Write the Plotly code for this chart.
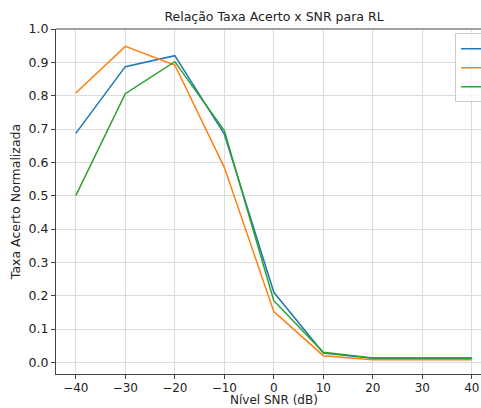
import plotly.graph_objects as go

snr = [-40, -30, -20, -10, 0, 10, 20, 30, 40]
serie_a = [0.687, 0.887, 0.920, 0.685, 0.210, 0.028, 0.012, 0.012, 0.012]
serie_b = [0.808, 0.948, 0.892, 0.585, 0.152, 0.020, 0.008, 0.008, 0.008]
serie_c = [0.500, 0.806, 0.902, 0.695, 0.185, 0.030, 0.013, 0.013, 0.013]
names = ["A", "B", "C"]
colors = ["#1f77b4", "#ff7f0e", "#2ca02c"]
x_ticks = [-40, -30, -20, -10, 0, 10, 20, 30, 40]
y_ticks = [0.0, 0.1, 0.2, 0.3, 0.4, 0.5, 0.6, 0.7, 0.8, 0.9, 1.0]

font = "DejaVu Sans"
fs = 12.5
fsx = 12
fig = go.Figure()
for ys, nm, c in zip([serie_a, serie_b, serie_c], names, colors):
    fig.add_trace(go.Scatter(x=snr, y=ys, mode="lines", name=nm,
                             line=dict(color=c, width=1.5)))

axis_common = dict(showgrid=True, gridcolor="#dcdcdc", gridwidth=1,
                   showline=True, linecolor="#444", linewidth=1,
                   ticks="outside", ticklen=4, tickcolor="#444",
                   zeroline=False)

x_range = [-44, -44 + 425 / 4.95]
fig.update_layout(
    width=481, height=408,
    margin=dict(l=56, r=0, t=29, b=34, autoexpand=False),
    paper_bgcolor="white", plot_bgcolor="white",
    font=dict(family=font, size=fs, color="#222"),
    title=dict(text="Relação Taxa Acerto x SNR para RL", x=274/481, xanchor="center",
               y=1 - 17/408, yanchor="middle", font=dict(family=font, size=12.5, color="#222")),
    xaxis=dict(range=x_range, tickvals=x_ticks,
               ticktext=[("\u2212" + str(-v)) if v < 0 else str(v) for v in x_ticks],
               tickfont=dict(family=font, size=fsx, color="#222"),
               ticklabelstandoff=-1,
               **axis_common),
    yaxis=dict(range=[-0.035, 1.0], tickvals=y_ticks,
               ticktext=[f"{v:.1f}" for v in y_ticks],
               tickfont=dict(family=font, size=fs, color="#222"),
               title=dict(text="Taxa Acerto Normalizada", standoff=5, font=dict(family=font, size=fs, color="#222")),
               **axis_common),
    legend=dict(x=0.939, y=0.988, xanchor="left", yanchor="top",
                bgcolor="rgba(255,255,255,0.8)", bordercolor="#cccccc", borderwidth=1,
                font=dict(family=font, size=10, color="#222")),
    shapes=[dict(type="line", xref="paper", yref="paper", x0=0, x1=1, y0=1, y1=1,
                 line=dict(color="#444", width=1))],
    annotations=[dict(text="Nível SNR (dB)", xref="paper", yref="paper",
                      x=(274 - 56) / 425, y=-34 / 345, xanchor="center", yanchor="bottom",
                      showarrow=False, borderpad=0,
                      font=dict(family=font, size=fsx, color="#222"))],
)

fig.write_html("out.html")
